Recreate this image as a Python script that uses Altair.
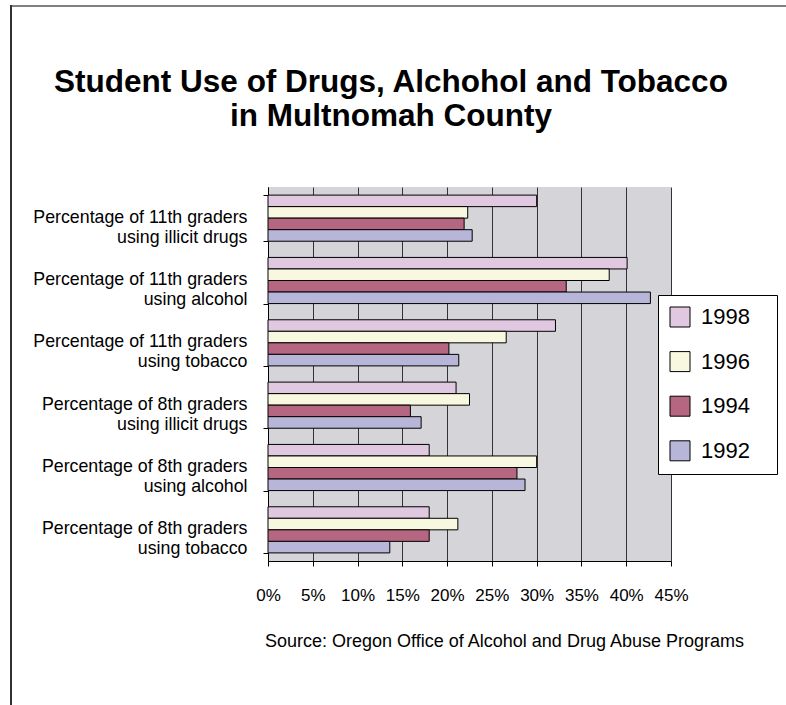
import altair as alt
import pandas as pd

categories = [
    "Percentage of 11th graders\u00a0|using illicit drugs",
    "Percentage of 11th graders|using alcohol",
    "Percentage of 11th graders|using tobacco",
    "Percentage of 8th graders|using illicit drugs",
    "Percentage of 8th graders|using alcohol",
    "Percentage of 8th graders|using tobacco",
]
years = ["1998", "1996", "1994", "1992"]
v1998 = [30.0, 40.1, 32.1, 21.0, 18.0, 18.0]
v1996 = [22.3, 38.1, 26.6, 22.5, 30.0, 21.2]
v1994 = [21.9, 33.3, 20.2, 15.9, 27.8, 18.0]
v1992 = [22.8, 42.7, 21.3, 17.1, 28.7, 13.6]
colors = ["#E0C8E0", "#F8F8E0", "#B56680", "#B8B6D8"]
x_ticks = [0, 5, 10, 15, 20, 25, 30, 35, 40, 45]

rows = []
for yr, vals in zip(years, [v1998, v1996, v1994, v1992]):
    for c, v in zip(categories, vals):
        rows.append({"group": c, "year": yr, "value": v})
df = pd.DataFrame(rows)

bars = alt.Chart(df).mark_bar(stroke="black", strokeWidth=1).encode(
    x=alt.X("value:Q",
            scale=alt.Scale(domain=[0, 45], nice=False, zero=True),
            axis=alt.Axis(values=x_ticks, labelExpr="datum.value + '%'",
                          labelOverlap=False, labelFlush=False, labelBound=False,
                          grid=True, gridColor="#333333", gridOpacity=1, gridWidth=1,
                          domainColor="black", tickColor="black", tickSize=5,
                          labelFont="Liberation Sans", labelFontSize=17, labelColor="black",
                          labelPadding=21,
                          title="Source:  Oregon Office of Alcohol and Drug Abuse Programs",
                          titleFont="Liberation Sans", titleFontSize=18, titleFontWeight="normal",
                          titleColor="black", titleX=236, titleY=80, titleAlign="center",
                          titleBaseline="middle")),
    y=alt.Y("group:N", sort=categories,
            scale=alt.Scale(paddingInner=0.26, paddingOuter=0.13),
            axis=alt.Axis(title=None, tickBand="extent", labelExpr="split(datum.label, '|')",
                          labelFont="Liberation Sans", labelFontSize=17.8, labelColor="black",
                          labelLineHeight=20, labelPadding=16, labelOffset=-1,
                          domainColor="black", tickColor="black", tickSize=5,
                          grid=False, labelLimit=300)),
    yOffset=alt.YOffset("year:N", sort=years, scale=alt.Scale(paddingInner=0, paddingOuter=0)),
    fill=alt.Fill("year:N", scale=alt.Scale(domain=years, range=colors),
                  legend=alt.Legend(title=None, orient="none", legendX=390, legendY=108,
                                    symbolType="square", symbolSize=400,
                                    symbolStrokeColor="black", symbolStrokeWidth=1,
                                    labelFont="Liberation Sans", labelFontSize=22,
                                    labelColor="black", labelOffset=10,
                                    labelExpr="datum.label + '\u2800'",
                                    rowPadding=20.6, padding=11,
                                    fillColor="white", strokeColor="black")),
)

frame_top = alt.Chart(df).mark_rule(color="#808080", strokeWidth=2).encode(
    x=alt.value(-257), x2=alt.value(518), y=alt.value(-181)
)
frame_left = alt.Chart(df).mark_rule(color="#333333", strokeWidth=1.5).encode(
    x=alt.value(-257), y=alt.value(-182), y2=alt.value(518)
)

chart = alt.layer(bars, frame_top, frame_left).properties(
    width=403, height=374,
    autosize=alt.AutoSizeParams(type="none"),
    padding={"left": 268, "top": 187, "right": 115, "bottom": 144},
    background="white",
    title=alt.TitleParams(
        text=["Student Use of Drugs, Alchohol and Tobacco", "in Multnomah County"],
        font="Liberation Sans", fontSize=31.5, fontWeight="bold", color="black",
        anchor="middle", frame="group", dx=-78.5, offset=0, dy=128, lineHeight=34,
    ),
).configure_view(fill="#D4D4D9", stroke=None)

chart.save("out.html", embed_options={"renderer": "svg", "actions": False})
